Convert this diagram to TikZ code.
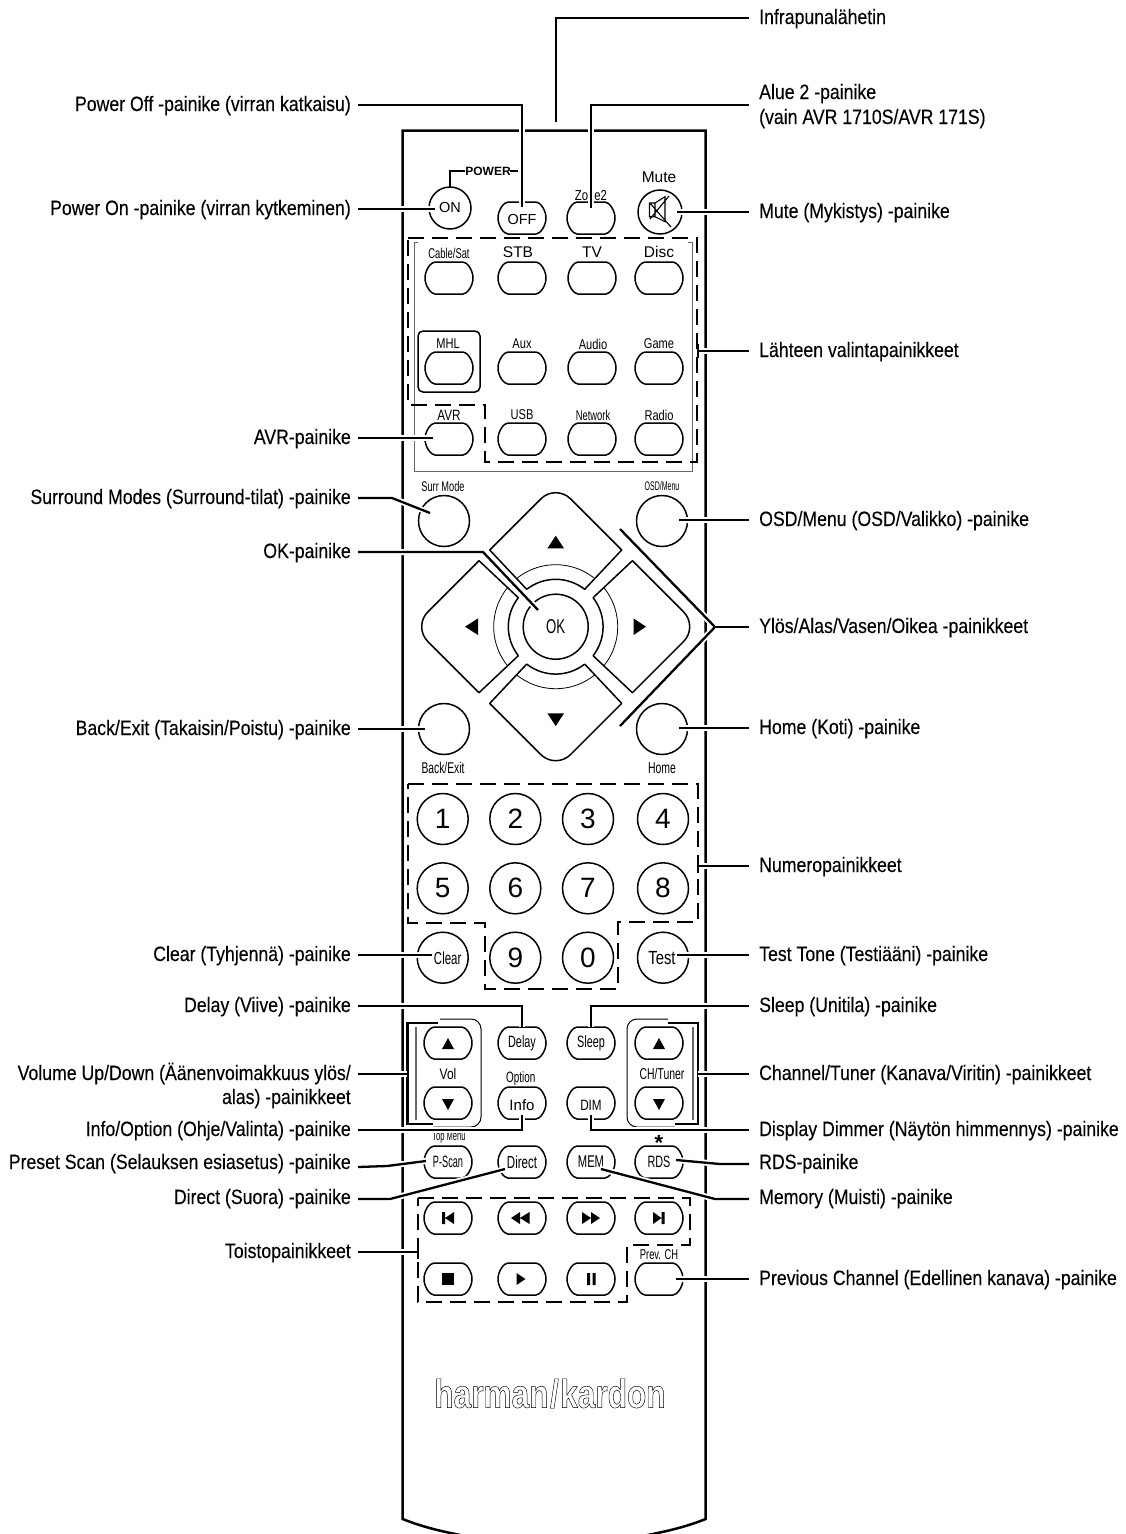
\documentclass[tikz,border=0pt]{standalone}
\usepackage{fontspec}
\setmainfont[FakeStretch=0.85,FakeBold=0.15]{Liberation Sans}
\newfontfamily\fxn[FakeStretch=0.56]{Liberation Sans}
\newfontfamily\fnar[FakeStretch=0.66]{Liberation Sans}
\newfontfamily\fmid[FakeStretch=0.78]{Liberation Sans}
\newfontfamily\ffull{Liberation Sans}
\newfontfamily\fbold{Liberation Sans Bold}
\newfontfamily\flogo[FakeStretch=0.79]{Liberation Sans Bold}
\newcommand\fs[1]{\fontsize{#1pt}{#1pt}\selectfont}
\tikzset{
  x=1pt,y=-1pt,
  leftlab/.style={anchor=east,inner sep=0pt,text height=14pt,text depth=0pt,font=\fs{20.8}},
  rightlab/.style={anchor=west,inner sep=0pt,text height=14pt,text depth=0pt,font=\fs{20.8}},
  leader/.style={line width=2.3pt,preaction={draw,white,line width=6pt}},
  tick/.style={line width=2.3pt},
  body/.style={line width=2.5pt,line join=miter},
  dashbox/.style={line width=2.3pt,dash pattern=on 16pt off 8pt,line join=miter},
  thin/.style={line width=0.9pt,draw=black!60},
  frame/.style={line width=1pt},
  btn/.style={line width=1.5pt},
  capt/.style={inner sep=0pt,font=\fmid\fs{14.2}},
  captn/.style={inner sep=0pt,font=\fnar\fs{14.2}},
  captf/.style={inner sep=0pt,font=\ffull\fs{15.5}},
  ins/.style={inner sep=0pt,font=\fnar\fs{16.4}},
  digit/.style={inner sep=0pt,font=\ffull\fs{28}},
}
\newcommand\pillshape[1]{%
  \begin{scope}[shift={(#1)}]
    \draw[btn] (-14,-16) -- (14,-16) .. controls (18,-16) and (24,-8) .. (24,0)
      .. controls (24,8) and (18,16) .. (14,16) -- (-14,16)
      .. controls (-18,16) and (-24,8) .. (-24,0) .. controls (-24,-8) and (-18,-16) .. (-14,-16) -- cycle;
  \end{scope}}
\newcommand\pill[2]{\pillshape{#2}\coordinate (#1) at (#2);}
\newcommand\pilltxt[4]{\pillshape{#2}\node[ins,#3] (#1) at (#2) {#4};}
\newcommand\rnd[3]{\node[circle,draw,btn,inner sep=0pt,minimum size=#3pt] (#1) at (#2) {};}
\begin{document}
\begin{tikzpicture}
\useasboundingbox (0,0) rectangle (1125,1534);
% body
\draw[body] (470,1537) .. controls (445,1532) and (425,1528) .. (402.7,1519) -- (402.7,130.7) -- (705.7,130.7) -- (705.7,1519) .. controls (683,1528) and (663,1532) .. (638,1537);
% power group
\draw[line width=1.5pt] (450,187) -- (450,171) -- (465,171);
\draw[line width=1.5pt] (510,171) -- (518,171);
\node[inner sep=0pt,font=\fbold\fs{12}] (powerlab) at (488,171) {POWER};
\node[circle,draw,btn,inner sep=0pt,minimum size=42pt,font=\ffull\fs{14.5}] (on) at (450,208) {ON};
\pilltxt{off}{522,218}{font=\ffull\fs{14.5},yshift=-2pt}{OFF}
\pill{zone}{591,218}
\node[capt,font=\fmid\fs{14.5}] (zonelab) at (591,196) {Zone2};
\node[circle,draw,btn,inner sep=0pt,minimum size=44pt] (mute) at (660,212) {};
\node[captf] (mutelab) at (659,177) {Mute};
\draw[line width=1.1pt,line join=miter] (649.5,203) rectangle (655,216.7) (655,203) -- (665,196.7) -- (665,221.7) -- (655,216.7)
  (650.7,204) -- (671,227) (669,196) -- (650,219);
% source group
\draw[thin] (418,242) -- (414,242) -- (414,471) -- (692,471) -- (692,242) -- (688,242);
\draw[dashbox] (408,238) -- (697,238) -- (697,462) -- (485,462) -- (485,405) -- (408,405) -- cycle;
\draw[rounded corners=5pt,line width=1.5pt] (418,331) rectangle (480,392);
\foreach \nm/\x/\y in {a1/449/278,a2/522/278,a3/592/278,a4/659/278,b1/449/368,b2/522/368,b3/592/368,b4/659/368,c1/449/439,c2/522/439,c3/592/439,c4/659/439}{\pill{\nm}{\x,\y}}
\node[captn] (t1) at (449,253) {Cable/Sat};
\node[captf] (t2) at (518,252) {STB};
\node[captf] (t3) at (592,252) {TV};
\node[captf] (t4) at (659,252) {Disc};
\node[capt] (t5) at (448,344) {MHL};
\node[capt] (t6) at (522,344) {Aux};
\node[capt] (t7) at (593,344) {Audio};
\node[capt] (t8) at (659,344) {Game};
\node[capt,font=\fmid\fs{15}] (t9) at (449,415) {AVR};
\node[capt] (t10) at (522,415) {USB};
\node[captn] (t11) at (593,415) {Network};
\node[capt] (t12) at (659,415) {Radio};
% nav
\rnd{surr}{444,521}{51}
\rnd{osd}{662,521}{51}
\rnd{back}{444,729}{51}
\rnd{home}{662,729}{51}
\node[captn,font=\fnar\fs{14}] (surrlab) at (443,486) {Surr Mode};
\node[captn,font=\fxn\fs{12.5}] (osdlab) at (662,486) {OSD/Menu};
\node[captn,font=\fnar\fs{15.6}] (backlab) at (443,768) {Back/Exit};
\node[captn,font=\fnar\fs{15.8}] (homelab) at (662,768) {Home};
\draw[line width=0.8pt] (555.7,626.7) circle (62);
\foreach \r in {0,90,180,270}{
  \fill[white,shift={(555.7,626.7)},rotate=\r] (-29,-37.4) -- (-66,-76.7) -- (-76.7,-66) -- (-37.4,-29) -- cycle;}
\foreach \r in {0,90,180,270}{
  \begin{scope}[shift={(555.7,626.7)},rotate=\r]
    \draw[btn,line join=round] (-29,-37.4) -- (-66,-76.7) [rounded corners=21pt] -- (0,-142.7) [sharp corners] -- (66,-76.7) -- (29,-37.4)
       .. controls (11.8,-50.7) and (-11.8,-50.7) .. (-29,-37.4);
  \end{scope}}
\node[circle,draw,btn,fill=white,inner sep=0pt,minimum size=65pt,font=\fnar\fs{20}] (ok) at (555.7,626.7) {OK};
\fill (547.4,548.4) -- (564,548.4) -- (555.7,535.7) -- cycle;
\fill (547.4,713.4) -- (564,713.4) -- (555.7,726) -- cycle;
\fill (478,618.4) -- (478,635) -- (465,626.7) -- cycle;
\fill (633.5,618.4) -- (633.5,635) -- (646,626.7) -- cycle;
% numbers
\draw[dashbox] (408.3,784) -- (697.7,784) -- (697.7,921.7) -- (618,921.7) -- (618,989) -- (485,989) -- (485,923) -- (408.3,923) -- cycle;
\foreach \nm/\x/\y/\t in {n1/442.7/819/1,n2/515.3/819/2,n3/588/819/3,n4/663/819/4,n5/442.7/888.3/5,n6/515.3/888.3/6,n7/588/888.3/7,n8/663/888.3/8,n9/515.3/957.7/9,n0/588/957.7/0}{
  \node[circle,draw,btn,inner sep=0pt,minimum size=51pt,digit] (\nm) at (\x,\y) {\t};}
\node[circle,draw,btn,inner sep=0pt,minimum size=51pt] (clear) at (442.7,957.7) {};
\node[inner sep=0pt,font=\fnar\fs{17.4}] (clearlab) at (447.7,958) {Clear};
\node[circle,draw,btn,inner sep=0pt,minimum size=51pt] (test) at (663,957.7) {};
\node[inner sep=0pt,font=\fmid\fs{19}] (testlab) at (662,957.7) {Test};
% volume & channel
\draw[frame,rounded corners=10pt] (440,1019) -- (481,1019) -- (481,1127) -- (433,1127);
\draw[thin,line width=1.2pt] (416,1027) -- (416,1120);
\draw[tick,line join=miter] (438,1023) -- (407.5,1023) -- (407.5,1124) -- (433,1124);
\draw[frame,rounded corners=10pt] (668,1019) -- (627,1019) -- (627,1127) -- (675,1127);
\draw[thin,line width=1.2pt] (693,1027) -- (693,1120);
\draw[tick,line join=miter] (668,1023) -- (698,1023) -- (698,1124) -- (675,1124);
\pill{volu}{448,1043}
\pill{vold}{448,1103}
\pill{chu}{659,1043}
\pill{chd}{659,1103}
\node[capt,font=\fmid\fs{15.3}] (vollab) at (448,1074) {Vol};
\node[captn,font=\fnar\fs{15.8}] (chlab) at (662,1074) {CH/Tuner};
\fill (442,1049) -- (454,1049) -- (448,1038) -- cycle;
\fill (442,1099) -- (454,1099) -- (448,1110) -- cycle;
\fill (653,1049) -- (665,1049) -- (659,1038) -- cycle;
\fill (653,1099) -- (665,1099) -- (659,1110) -- cycle;
\pilltxt{delay}{522,1043}{}{Delay}
\pilltxt{sleep}{591,1043}{}{Sleep}
\pilltxt{info}{522,1103}{font=\ffull\fs{15},yshift=-2pt}{Info}
\pilltxt{dim}{591,1103}{font=\fmid\fs{15},yshift=-2pt}{DIM}
\node[captn,font=\fnar\fs{15}] (optlab) at (520.7,1079) {Option};
\node[captn,font=\fxn\fs{13.5}] (toplab) at (449,1137) {Top Menu};
\node[inner sep=0pt,font=\fbold\fs{22}] (star) at (659,1143) {*};
\pilltxt{pscan}{448,1162}{font=\fxn\fs{16.4}}{P-Scan}
\pilltxt{direct}{522,1162}{font=\fnar\fs{17.5}}{Direct}
\pilltxt{mem}{591,1162}{font=\fnar\fs{17}}{MEM}
\pilltxt{rds}{659,1162}{}{RDS}
% transport
\draw[dashbox] (418,1198) -- (690,1198) -- (690,1245) -- (627,1245) -- (627,1302) -- (418,1302) -- cycle;
\foreach \nm/\x/\y in {p1/448/1218,p2/522/1218,p3/591/1218,p4/659/1218,p5/448/1279,p6/522/1279,p7/591/1279,p8/659/1279}{\pill{\nm}{\x,\y}}
\node[captn] (prevlab) at (659,1255) {Prev. CH};
\fill (442,1212) rectangle (445,1224) (454,1212) -- (454,1224) -- (445,1218) -- cycle;
\fill (520,1212) -- (520,1224) -- (511,1218) -- cycle (529.5,1212) -- (529.5,1224) -- (520,1218) -- cycle;
\fill (582,1212) -- (582,1224) -- (591,1218) -- cycle (591,1212) -- (591,1224) -- (600,1218) -- cycle;
\fill (653,1212) -- (653,1224) -- (661.5,1218) -- cycle (661.5,1212) rectangle (664.5,1224);
\fill (442,1273) rectangle (454,1285);
\fill (516.5,1273) -- (516.5,1285) -- (525.5,1279) -- cycle;
\fill (587,1273) rectangle (590,1285) (592.5,1273) rectangle (595.5,1285);
% logo
\node[inner sep=0pt,anchor=base,font=\flogo\fs{40}] (logo) at (550,1407.7) {\special{pdf:code 1 Tr 0.45 w}harman\kern1.5pt/\kern1.5pt kardon\special{pdf:code 0 Tr}};
% labels left
\node[leftlab] (lOff) at (351,104) {Power Off -painike (virran katkaisu)};
\node[leftlab] (lOn) at (351,208) {Power On -painike (virran kytkeminen)};
\node[leftlab] (lAvr) at (351,437) {AVR-painike};
\node[leftlab] (lSurr) at (351,497) {Surround Modes (Surround-tilat) -painike};
\node[leftlab] (lOk) at (351,551) {OK-painike};
\node[leftlab] (lBack) at (351,728) {Back/Exit (Takaisin/Poistu) -painike};
\node[leftlab] (lClear) at (351,954) {Clear (Tyhjennä) -painike};
\node[leftlab] (lDelay) at (351,1005) {Delay (Viive) -painike};
\node[leftlab] (lVol) at (351,1073) {Volume Up/Down (Äänenvoimakkuus ylös/};
\node[leftlab] (lVolb) at (351,1097) {alas) -painikkeet};
\node[leftlab] (lInfo) at (351,1129) {Info/Option (Ohje/Valinta) -painike};
\node[leftlab] (lScan) at (351,1162) {Preset Scan (Selauksen esiasetus) -painike};
\node[leftlab] (lDirect) at (351,1197) {Direct (Suora) -painike};
\node[leftlab] (lPlay) at (351,1251) {Toistopainikkeet};
% labels right
\node[rightlab] (rIr) at (759,17) {Infrapunalähetin};
\node[rightlab] (rZone) at (759,92) {Alue 2 -painike};
\node[rightlab] (rZoneb) at (759,117) {(vain AVR 1710S/AVR 171S)};
\node[rightlab] (rMute) at (759,211) {Mute (Mykistys) -painike};
\node[rightlab] (rSrc) at (759,350) {Lähteen valintapainikkeet};
\node[rightlab] (rOsd) at (759,519) {OSD/Menu (OSD/Valikko) -painike};
\node[rightlab] (rNav) at (759,626) {Ylös/Alas/Vasen/Oikea -painikkeet};
\node[rightlab] (rHome) at (759,727) {Home (Koti) -painike};
\node[rightlab] (rNum) at (759,865) {Numeropainikkeet};
\node[rightlab] (rTest) at (759,954) {Test Tone (Testiääni) -painike};
\node[rightlab] (rSleep) at (759,1005) {Sleep (Unitila) -painike};
\node[rightlab] (rCh) at (759,1073) {Channel/Tuner (Kanava/Viritin) -painikkeet};
\node[rightlab] (rDim) at (759,1129) {Display Dimmer (Näytön himmennys) -painike};
\node[rightlab] (rRds) at (759,1162) {RDS-painike};
\node[rightlab] (rMem) at (759,1197) {Memory (Muisti) -painike};
\node[rightlab] (rPrev) at (759,1278) {Previous Channel (Edellinen kanava) -painike};
% named free ends
\coordinate (eIr) at (556,122);
\coordinate (eOff) at (522,207);
\coordinate (eZone) at (591,208);
\coordinate (sZone) at (749,105);
\coordinate (eOn) at (435,209);
\coordinate (eMute) at (677,212);
\coordinate (eSrc) at (698,351);
\coordinate (eAvr) at (433,438);
\coordinate (eSurr) at (430,513);
\coordinate (kSurr) at (392,498);
\coordinate (eOsd) at (679,520);
\coordinate (kOk) at (483,552);
\coordinate (eOk) at (538,610);
\coordinate (aNav) at (715,627);
\coordinate (eNavU) at (620,529);
\coordinate (eNavD) at (620,726);
\coordinate (eBack) at (425,729);
\coordinate (eHome) at (679,728);
\coordinate (eNum) at (698,866);
\coordinate (eClear) at (432,955);
\coordinate (eTest) at (677,955);
\coordinate (eDelay) at (522,1027);
\coordinate (eSleep) at (591,1027);
\coordinate (eVol) at (407,1074);
\coordinate (eCh) at (698,1074);
\coordinate (eInfo) at (522,1115);
\coordinate (eDim) at (591,1115);
\coordinate (eScan) at (426,1161);
\coordinate (kScan) at (387,1166);
\coordinate (eRds) at (676,1160);
\coordinate (kRds) at (720,1164);
\coordinate (eDirect) at (505,1169);
\coordinate (kDirect) at (390,1199);
\coordinate (eMem) at (601,1169);
\coordinate (kMem) at (715,1199);
\coordinate (ePlay) at (418,1252);
\coordinate (ePrev) at (676,1279);
% leaders
\draw[leader] ([shift={(-10,1)}]rIr.west) -| (eIr);
\draw[leader] ([shift={(7,1)}]lOff.east) -| (eOff);
\draw[leader] (sZone) -| (eZone);
\draw[leader] ([shift={(7,1)}]lOn.east) -- (eOn);
\draw[leader] ([shift={(-10,1)}]rMute.west) -- (eMute);
\draw[leader] ([shift={(-10,1)}]rSrc.west) -- (eSrc);
\draw[tick] ([yshift=-7pt]eSrc) -- ([yshift=7pt]eSrc);
\draw[leader] ([shift={(7,1)}]lAvr.east) -- (eAvr);
\draw[leader] ([shift={(7,1)}]lSurr.east) -- (kSurr) -- (eSurr);
\draw[leader] ([shift={(-10,1)}]rOsd.west) -- (eOsd);
\draw[leader] ([shift={(7,1)}]lOk.east) -- (kOk) -- (eOk);
\draw[leader,line join=miter] (eNavU) -- (aNav) -- (eNavD);
\draw[leader] ([shift={(-10,1)}]rNav.west) -- (aNav);
\draw[leader] ([shift={(7,1)}]lBack.east) -- (eBack);
\draw[leader] ([shift={(-10,1)}]rHome.west) -- (eHome);
\draw[leader] ([shift={(-10,1)}]rNum.west) -- (eNum);
\draw[tick] ([yshift=-7pt]eNum) -- ([yshift=7pt]eNum);
\draw[leader] ([shift={(7,1)}]lClear.east) -- (eClear);
\draw[leader] ([shift={(-10,1)}]rTest.west) -- (eTest);
\draw[leader] ([shift={(7,1)}]lDelay.east) -| (eDelay);
\draw[leader] ([shift={(-10,1)}]rSleep.west) -| (eSleep);
\draw[leader] ([shift={(7,1)}]lVol.east) -- (eVol);
\draw[leader] ([shift={(-10,1)}]rCh.west) -- (eCh);
\draw[leader] ([shift={(7,1)}]lInfo.east) -| (eInfo);
\draw[leader] ([shift={(-10,1)}]rDim.west) -| (eDim);
\draw[leader] ([shift={(7,5)}]lScan.east) -- (kScan) -- (eScan);
\draw[leader] ([shift={(-10,2)}]rRds.west) -- (kRds) -- (eRds);
\draw[leader] ([shift={(7,2)}]lDirect.east) -- (kDirect) -- (eDirect);
\draw[leader] ([shift={(-10,2)}]rMem.west) -- (kMem) -- (eMem);
\draw[leader] ([shift={(7,1)}]lPlay.east) -- (ePlay);
\draw[tick] ([yshift=-7pt]ePlay) -- ([yshift=7pt]ePlay);
\draw[leader] ([shift={(-10,1)}]rPrev.west) -- (ePrev);
\end{tikzpicture}
\end{document}
